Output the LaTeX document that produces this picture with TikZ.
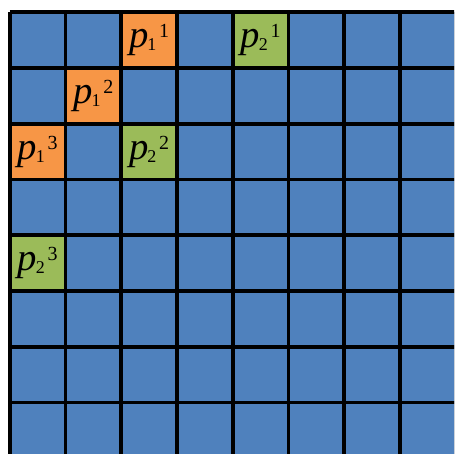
\documentclass[tikz,border=0pt]{standalone}
\usepackage{fontspec}
\setmainfont{Liberation Serif}
\usetikzlibrary{positioning}

\definecolor{cellblue}{RGB}{79,129,189}
\definecolor{cellorange}{RGB}{247,150,70}
\definecolor{cellgreen}{RGB}{155,187,89}

% p with subscript and superscript set side by side
\newcommand{\plab}[2]{{\fontsize{29}{29}\selectfont\itshape p}\kern-0.8pt%
  \raisebox{-2.4pt}{\fontsize{13.5}{14}\selectfont #1}\kern2pt%
  \raisebox{7.5pt}{\fontsize{15}{15}\selectfont #2}}

\begin{document}
\begin{tikzpicture}[x=1.47cm, y=-1.47cm,
    % cell colours
    blue cell/.style={fill=cellblue},
    first cell/.style={fill=cellorange},
    second cell/.style={fill=cellgreen},
    % thick black grid
    grid line/.style={draw=black, line width=2.8pt},
    % labels in the coloured cells
    cell label/.style={inner sep=0pt, anchor=center}
  ]
  \useasboundingbox (-0.174,-0.221) rectangle (7.970,7.923);
  \clip (-0.174,-0.221) rectangle (7.970,7.923);

  % --- Cells ---
  \fill[blue cell] (0,0) rectangle (8,8);
  \fill[first cell] (2,0) rectangle (3,1);
  \fill[first cell] (1,1) rectangle (2,2);
  \fill[first cell] (0,2) rectangle (1,3);
  \fill[second cell] (4,0) rectangle (5,1);
  \fill[second cell] (2,2) rectangle (3,3);
  \fill[second cell] (0,4) rectangle (1,5);

  % --- Grid ---
  \foreach \k in {0,...,8} {
    \draw[grid line] (\k,0) -- (\k,8);
    \draw[grid line] (0,\k) -- (8,\k);
  }

  % --- Labels ---
  \node[cell label] (pa1) at (2.5,0.5) {\plab{1}{1}};
  \node[cell label] (pa2) at (1.5,1.5) {\plab{1}{2}};
  \node[cell label] (pa3) at (0.5,2.5) {\plab{1}{3}};
  \node[cell label] (pb1) at (4.5,0.5) {\plab{2}{1}};
  \node[cell label] (pb2) at (2.5,2.5) {\plab{2}{2}};
  \node[cell label] (pb3) at (0.5,4.5) {\plab{2}{3}};

\end{tikzpicture}
\end{document}
